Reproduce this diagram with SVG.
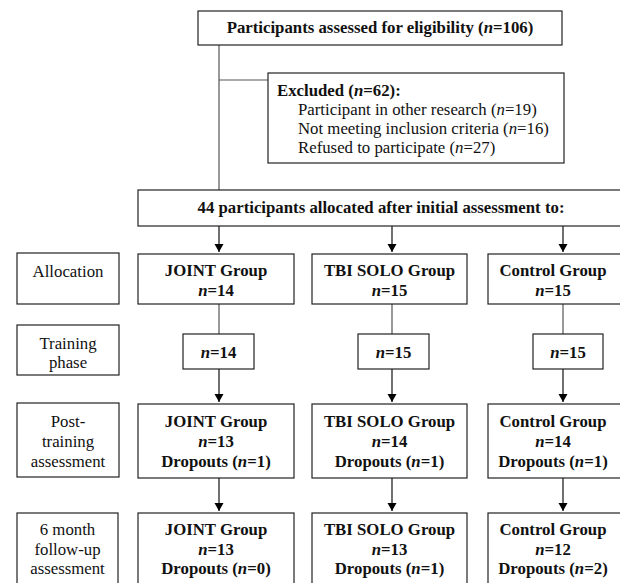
<svg xmlns="http://www.w3.org/2000/svg" width="620" height="583" viewBox="0 0 620 583">
<defs>
<style>
.box{fill:#fff;stroke:#222;stroke-width:1.2}
text{font-family:'Liberation Serif','Times New Roman','DejaVu Serif',serif;font-size:16.8px;fill:#111}
.c{text-anchor:middle}
.b{font-weight:bold}
.i{font-style:italic}
.ln{fill:none;stroke:#555;stroke-width:1.2}
.ar{fill:none;stroke:#111;stroke-width:1.2}
</style>
<marker id="ah" markerUnits="userSpaceOnUse" markerWidth="10" markerHeight="10" refX="8" refY="4.5" orient="auto">
<path d="M0,0 L8,4.5 L0,9 z" fill="#000"/>
</marker>
</defs>
<rect width="620" height="583" fill="#fff"/>

<g id="connectors">
<path class="ln" d="M219,45 V190 M219,80 H268"/>
<path class="ar" d="M219,226 V252" marker-end="url(#ah)"/>
<path class="ar" d="M392,226 V252" marker-end="url(#ah)"/>
<path class="ar" d="M563,226 V252" marker-end="url(#ah)"/>
<path class="ln" d="M219,304 V334 M392,304 V334 M563,304 V334"/>
<path class="ar" d="M219,369 V402" marker-end="url(#ah)"/>
<path class="ar" d="M392,369 V402" marker-end="url(#ah)"/>
<path class="ar" d="M563,369 V402" marker-end="url(#ah)"/>
<path class="ar" d="M219,478 V511" marker-end="url(#ah)"/>
<path class="ar" d="M392,478 V511" marker-end="url(#ah)"/>
<path class="ar" d="M563,478 V511" marker-end="url(#ah)"/>
</g>

<g id="assessed">
<rect class="box" x="198" y="11" width="364" height="34"/>
<text class="b c" x="380" y="33">Participants assessed for eligibility (<tspan class="i">n</tspan>=106)</text>
</g>

<g id="excluded">
<rect class="box" x="268" y="73" width="296" height="90"/>
<text class="b" x="277" y="95.5">Excluded (<tspan class="i">n</tspan>=62):</text>
<text x="298" y="114.5">Participant in other research (<tspan class="i">n</tspan>=19)</text>
<text x="298" y="133.5">Not meeting inclusion criteria (<tspan class="i">n</tspan>=16)</text>
<text x="298" y="152.5">Refused to participate (<tspan class="i">n</tspan>=27)</text>
</g>

<g id="allocated">
<rect class="box" x="138" y="190" width="490" height="36"/>
<text class="b c" x="381" y="213">44 participants allocated after initial assessment to:</text>
</g>

<g id="label-allocation">
<rect class="box" x="17" y="253" width="102" height="51"/>
<text class="c" x="68" y="277">Allocation</text>
</g>
<g id="label-training">
<rect class="box" x="17" y="325" width="102" height="50"/>
<text class="c" x="68" y="349">Training</text>
<text class="c" x="68" y="368">phase</text>
</g>
<g id="label-post">
<rect class="box" x="17" y="403" width="102" height="74"/>
<text class="c" x="68" y="427">Post-</text>
<text class="c" x="68" y="447">training</text>
<text class="c" x="68" y="467">assessment</text>
</g>
<g id="label-followup">
<rect class="box" x="17" y="513" width="101" height="80"/>
<text class="c" x="67.5" y="535">6 month</text>
<text class="c" x="67.5" y="554.5">follow-up</text>
<text class="c" x="67.5" y="574">assessment</text>
</g>

<g id="joint-alloc">
<rect class="box" x="138" y="254" width="156" height="50"/>
<text class="b c" x="216" y="276">JOINT Group</text>
<text class="b c" x="216" y="296"><tspan class="i">n</tspan>=14</text>
</g>
<g id="tbi-alloc">
<rect class="box" x="312" y="254" width="155" height="50"/>
<text class="b c" x="389.5" y="276">TBI SOLO Group</text>
<text class="b c" x="389.5" y="296"><tspan class="i">n</tspan>=15</text>
</g>
<g id="control-alloc">
<rect class="box" x="488" y="254" width="152" height="50"/>
<text class="b c" x="553" y="276">Control Group</text>
<text class="b c" x="553" y="296"><tspan class="i">n</tspan>=15</text>
</g>

<g id="joint-train">
<rect class="box" x="183" y="334" width="71" height="35"/>
<text class="b c" x="218.5" y="357.5"><tspan class="i">n</tspan>=14</text>
</g>
<g id="tbi-train">
<rect class="box" x="358" y="334" width="71" height="35"/>
<text class="b c" x="393.5" y="357.5"><tspan class="i">n</tspan>=15</text>
</g>
<g id="control-train">
<rect class="box" x="533" y="334" width="70" height="35"/>
<text class="b c" x="568" y="357.5"><tspan class="i">n</tspan>=15</text>
</g>

<g id="joint-post">
<rect class="box" x="138" y="404" width="156" height="74"/>
<text class="b c" x="216" y="427">JOINT Group</text>
<text class="b c" x="216" y="447"><tspan class="i">n</tspan>=13</text>
<text class="b c" x="216" y="467">Dropouts (<tspan class="i">n</tspan>=1)</text>
</g>
<g id="tbi-post">
<rect class="box" x="312" y="404" width="155" height="74"/>
<text class="b c" x="389.5" y="427">TBI SOLO Group</text>
<text class="b c" x="389.5" y="447"><tspan class="i">n</tspan>=14</text>
<text class="b c" x="389.5" y="467">Dropouts (<tspan class="i">n</tspan>=1)</text>
</g>
<g id="control-post">
<rect class="box" x="488" y="404" width="152" height="74"/>
<text class="b c" x="553" y="427">Control Group</text>
<text class="b c" x="553" y="447"><tspan class="i">n</tspan>=14</text>
<text class="b c" x="553" y="467">Dropouts (<tspan class="i">n</tspan>=1)</text>
</g>

<g id="joint-follow">
<rect class="box" x="138" y="513" width="156" height="80"/>
<text class="b c" x="216" y="535">JOINT Group</text>
<text class="b c" x="216" y="554.5"><tspan class="i">n</tspan>=13</text>
<text class="b c" x="216" y="574">Dropouts (<tspan class="i">n</tspan>=0)</text>
</g>
<g id="tbi-follow">
<rect class="box" x="312" y="513" width="155" height="80"/>
<text class="b c" x="389.5" y="535">TBI SOLO Group</text>
<text class="b c" x="389.5" y="554.5"><tspan class="i">n</tspan>=13</text>
<text class="b c" x="389.5" y="574">Dropouts (<tspan class="i">n</tspan>=1)</text>
</g>
<g id="control-follow">
<rect class="box" x="488" y="513" width="152" height="80"/>
<text class="b c" x="553" y="535">Control Group</text>
<text class="b c" x="553" y="554.5"><tspan class="i">n</tspan>=12</text>
<text class="b c" x="553" y="574">Dropouts (<tspan class="i">n</tspan>=2)</text>
</g>
</svg>
